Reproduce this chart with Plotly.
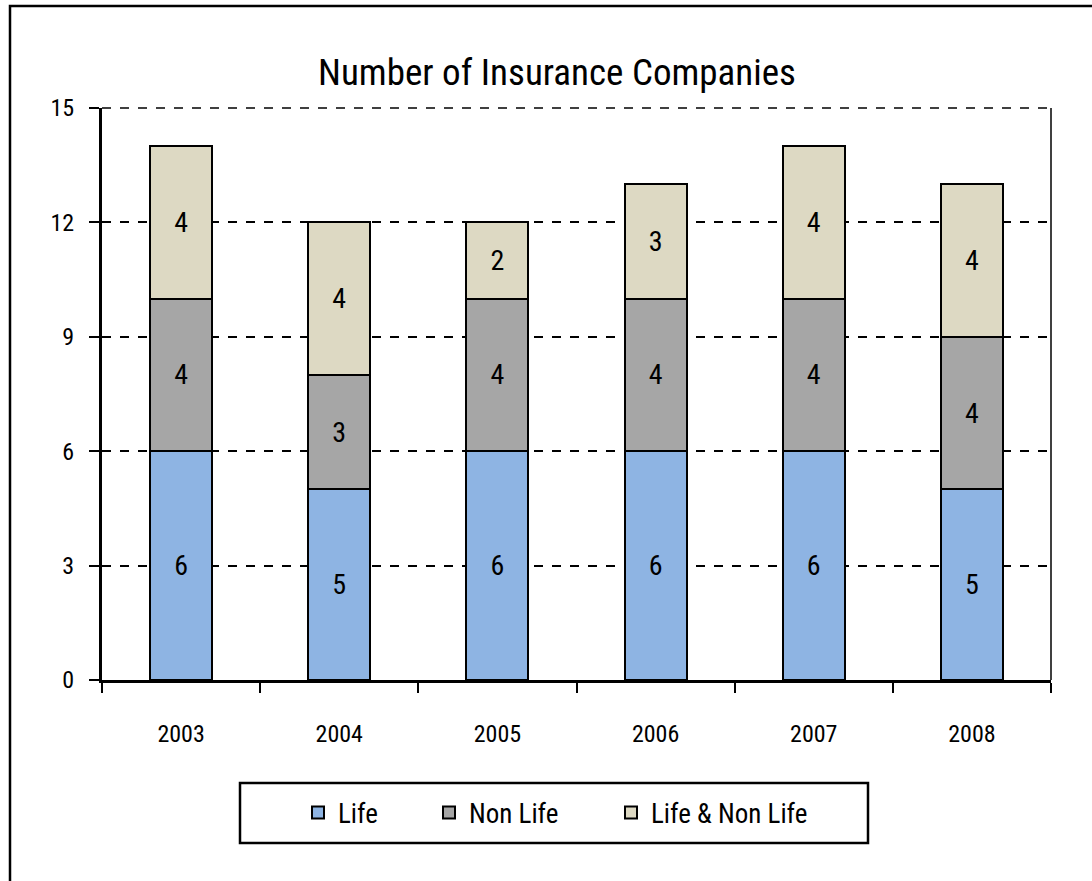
import plotly.graph_objects as go

years = ["2003", "2004", "2005", "2006", "2007", "2008"]
life = [6, 5, 6, 6, 6, 5]
non_life = [4, 3, 4, 4, 4, 4]
life_non_life = [4, 4, 2, 3, 4, 4]

FONT = "Roboto Condensed, Liberation Sans Narrow, Arial Narrow, sans-serif"
W, H = 1092, 881
L, R, T, B = 102, 41, 108, 201
PW, PH = W - L - R, H - T - B

def px(x):
    return (x - L) / PW

def py(y):
    return (H - B - y) / PH

series = [
    ("Life", life, "#8EB4E3", "legend", 298),
    ("Non Life", non_life, "#A6A6A6", "legend2", 429),
    ("Life & Non Life", life_non_life, "#DDD9C3", "legend3", 611),
]

fig = go.Figure()
for name, vals, color, lg, _ in series:
    fig.add_trace(go.Bar(
        x=years, y=vals, name=name,
        marker=dict(color=color, line=dict(color="black", width=2)),
        text=[str(v) for v in vals], textposition="inside",
        insidetextanchor="middle", textangle=0, constraintext="none",
        textfont=dict(family=FONT, size=28, color="black"),
        legend=lg,
    ))

legend_common = dict(orientation="h", yanchor="middle", xanchor="left",
                     y=py(813), bgcolor="rgba(0,0,0,0)", borderwidth=0,
                     font=dict(family=FONT, size=27, color="black"))
legends = {}
for name, vals, color, lg, lx in series:
    legends[lg] = dict(legend_common, x=px(lx))

fig.update_layout(
    width=W, height=H,
    margin=dict(l=L, r=R, t=T, b=B, pad=0),
    paper_bgcolor="white", plot_bgcolor="white",
    barmode="stack", bargap=0.608,
    title=dict(text="Number of Insurance Companies", xref="container", x=557 / W,
               xanchor="center", y=1 - 72 / H, yanchor="middle",
               font=dict(family=FONT, size=37, color="black")),
    font=dict(family=FONT, color="black"),
    showlegend=True,
    **legends,
)
fig.update_yaxes(range=[0, 15], dtick=3, tick0=0, showgrid=True,
                 gridcolor="black", gridwidth=1.5, griddash="dash",
                 showline=True, linecolor="black", linewidth=3,
                 ticks="outside", ticklen=10, tickwidth=2, tickcolor="black",
                 ticklabelstandoff=10, zeroline=False,
                 tickfont=dict(family=FONT, size=24, color="black"))
fig.update_xaxes(showline=True, linecolor="black", linewidth=3,
                 ticks="outside", tickson="boundaries", ticklen=10, tickwidth=2,
                 tickcolor="black", ticklabelstandoff=30, showgrid=False,
                 tickfont=dict(family=FONT, size=24, color="black"))

shapes = [
    # top dashed gridline at the range end
    dict(type="line", xref="paper", yref="paper", x0=0, x1=1, y0=1, y1=1,
         line=dict(color="black", width=1.5, dash="dash")),
    # right border of plot area
    dict(type="line", xref="paper", yref="paper", x0=1, x1=1, y0=0, y1=1,
         line=dict(color="black", width=1.5)),
    # outer chart frame
    dict(type="rect", xref="paper", yref="paper", x0=px(10), x1=px(1100),
         y0=py(895), y1=py(6), line=dict(color="black", width=2.5),
         fillcolor="rgba(0,0,0,0)", layer="above"),
    # legend box
    dict(type="rect", xref="paper", yref="paper", x0=px(240), x1=px(868),
         y0=py(843), y1=py(783), line=dict(color="black", width=2.5),
         fillcolor="rgba(0,0,0,0)", layer="above"),
]
fig.update_layout(shapes=shapes)

fig.write_html("out.html", config={"displayModeBar": False},
               post_script="document.body.style.margin='0';document.body.style.overflow='hidden';")
